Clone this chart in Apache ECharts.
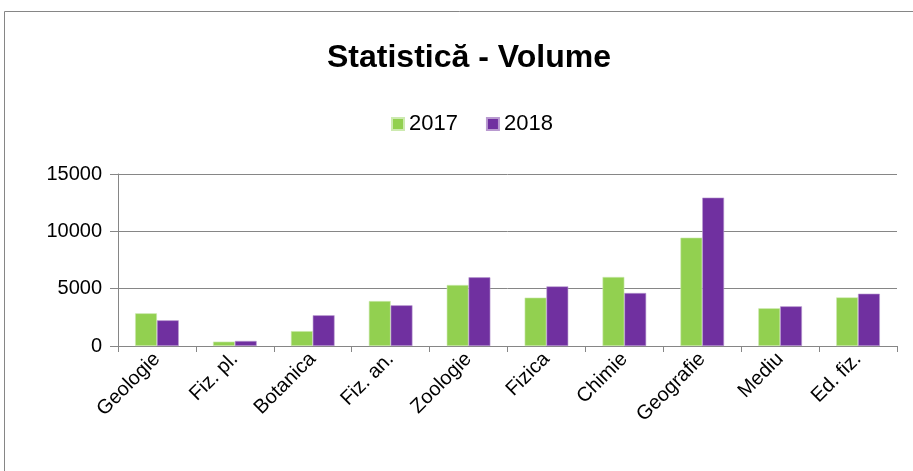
<!DOCTYPE html>
<html><head><meta charset="utf-8">
<script src="https://cdn.jsdelivr.net/npm/echarts@6/dist/echarts.min.js"></script>
<style>html,body{margin:0;padding:0;background:#fff}#c{width:913px;height:471px}</style>
</head><body><div id="c"></div>
<script>
const categories = ["Geologie","Fiz. pl.","Botanica","Fiz. an.","Zoologie","Fizica","Chimie","Geografie","Mediu","Ed. fiz."];
const values2017 = [2850, 380, 1300, 3920, 5320, 4220, 6020, 9450, 3290, 4240];
const values2018 = [2240, 440, 2680, 3550, 5990, 5200, 4620, 12940, 3460, 4560];
const yTicks = [0, 5000, 10000, 15000];

const chart = echarts.init(document.getElementById('c'));
const font = "'Liberation Sans', Arial, sans-serif";
chart.setOption({
  animation: false,
  graphic: [{type:'rect', shape:{x:4.5,y:11.5,width:1000,height:1000}, style:{fill:'none', stroke:'#868686', lineWidth:1}}],
  title: {text: 'Statistică - Volume', left: 322, top: 37,
    textStyle: {fontFamily: font, fontSize: 32, fontWeight: 'bold', color: '#000'}},
  legend: {top: 108, left: 386, itemWidth: 12, itemHeight: 12, itemGap: 28,
    icon: 'rect', textStyle: {fontFamily: font, fontSize: 22, color: '#000'}},
  grid: {left: 118, right: 16, top: 174, bottom: 125},
  xAxis: {type: 'category', data: categories,
    axisLine: {lineStyle: {color: '#868686'}},
    axisTick: {show: true, length: 6, lineStyle: {color: '#868686'}},
    axisLabel: {rotate: 45, fontFamily: font, fontSize: 20, color: '#000', margin: 10}},
  yAxis: {type: 'value', min: yTicks[0], max: yTicks[yTicks.length-1], interval: 5000,
    axisLine: {show: true, lineStyle: {color: '#868686'}},
    axisTick: {show: true, length: 8, lineStyle: {color: '#868686'}},
    splitLine: {lineStyle: {color: '#868686'}},
    axisLabel: {fontFamily: font, fontSize: 20, color: '#000', margin: 16, formatter: v => String(v)}},
  series: [
    {name: '2017', type: 'bar', data: values2017, barGap: '0%', barCategoryGap: '44%',
     itemStyle: {color: '#92D050', borderColor: '#cdeab0', borderWidth: 0.6}},
    {name: '2018', type: 'bar', data: values2018, barGap: '0%', barCategoryGap: '44%',
     itemStyle: {color: '#7030A0', borderColor: '#b99ad0', borderWidth: 0.6}}
  ]
});
</script></body></html>
